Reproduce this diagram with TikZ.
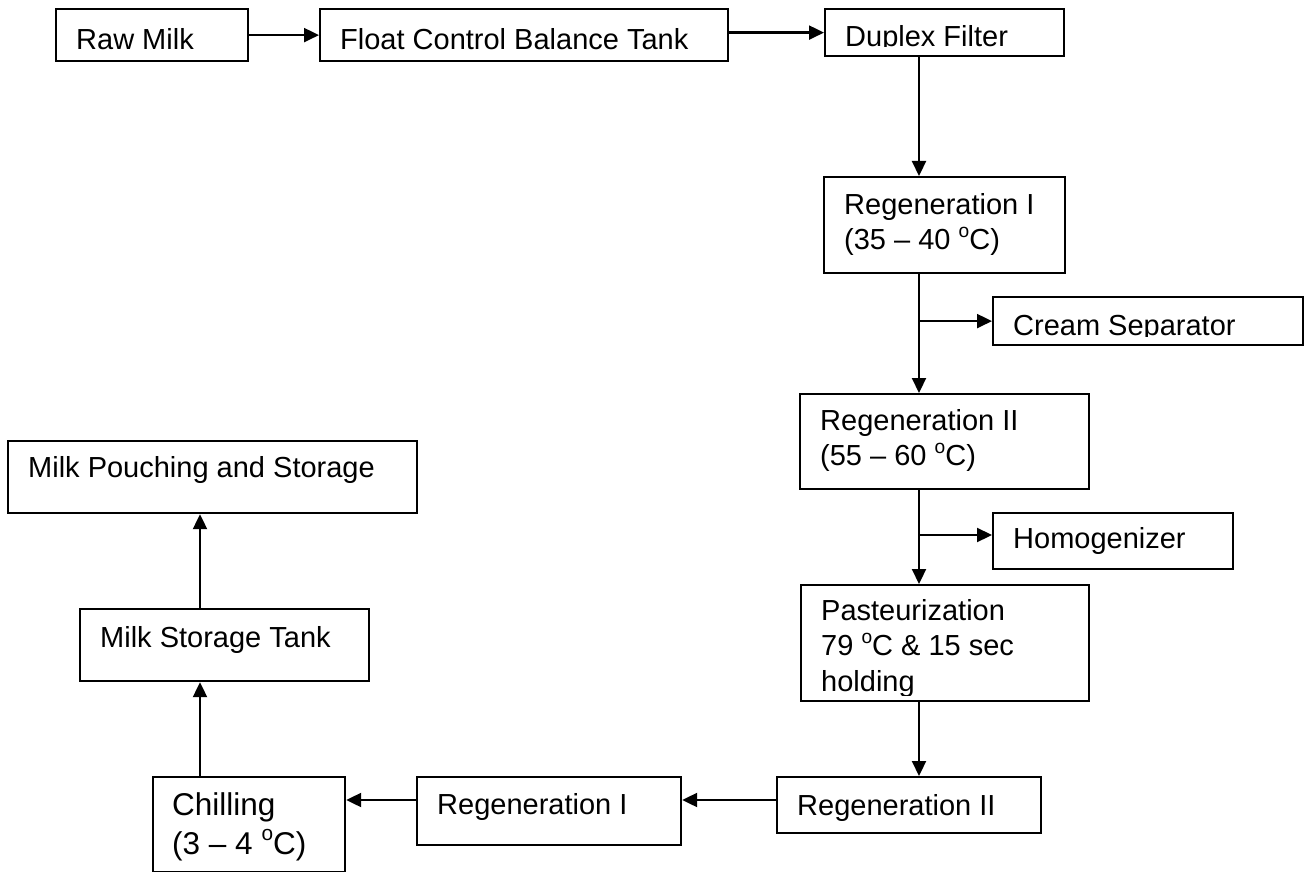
\documentclass[tikz,border=0pt]{standalone}
\usepackage{fontspec}
\setmainfont{Liberation Sans}
\usetikzlibrary{arrows.meta}
% stacked lines whose baseline is that of the first line
\newcommand{\stack}[1]{\begin{tabular}[t]{@{}l@{}}#1\end{tabular}}
% raised small o before C, as in the temperature labels
\newcommand{\degC}{\raisebox{0.42em}{\fontsize{0.66em}{0.66em}\selectfont o}C}
\begin{document}
\begin{tikzpicture}[x=1pt,y=-1pt,
  box/.style={draw, line width=2.2pt, rectangle, inner sep=0pt, anchor=north west},
  lbl/.style={anchor=base west, inner sep=0pt, font=\fontsize{29}{35.5}\selectfont},
  biglbl/.style={anchor=base west, inner sep=0pt, font=\fontsize{31.5}{39}\selectfont},
  flow/.style={line width=2.2pt, -{Triangle[length=15pt,width=14pt]}}]
\useasboundingbox (0,0) rectangle (1304,872);

% process boxes
\node[box, minimum width=192pt, minimum height=52pt] (raw)     at (55,8)    {};
\node[box, minimum width=408pt, minimum height=52pt] (float)   at (319,8)   {};
\node[box, minimum width=239pt, minimum height=47pt] (duplex)  at (824,8)   {};
\node[box, minimum width=241pt, minimum height=96pt] (regA)    at (823,176) {};
\node[box, minimum width=310pt, minimum height=48pt] (cream)   at (992,296) {};
\node[box, minimum width=289pt, minimum height=95pt] (regB)    at (799,393) {};
\node[box, minimum width=240pt, minimum height=56pt] (homog)   at (992,512) {};
\node[box, minimum width=288pt, minimum height=116pt] (past)   at (800,584) {};
\node[box, minimum width=264pt, minimum height=56pt] (regBret) at (776,776) {};
\node[box, minimum width=264pt, minimum height=68pt] (regAret) at (416,776) {};
\node[box, minimum width=192pt, minimum height=95pt] (chill)   at (152,776) {};
\node[box, minimum width=289pt, minimum height=72pt] (store)   at (79,608)  {};
\node[box, minimum width=409pt, minimum height=72pt] (pouch)   at (7,440)   {};

% box texts
\node[lbl] (rawT)   at (76,50)  {Raw Milk};
\node[lbl] (floatT) at (340,50) {Float Control Balance Tank};
\begin{scope}
  \clip (824,8) rectangle (1063,47);
  \node[lbl] (duplexT) at (845,47) {Duplex Filter};
\end{scope}
\node[lbl] (regAT) at (844,214) {\stack{Regeneration I\\(35 – 40 \degC)}};
\begin{scope}
  \clip (992,296) rectangle (1302,336);
  \node[lbl] (creamT) at (1013,335) {Cream Separator};
\end{scope}
\node[lbl] (regBT)  at (820,430) {\stack{Regeneration II\\(55 – 60 \degC)}};
\node[lbl] (homogT) at (1013,548) {Homogenizer};
\begin{scope}
  \clip (800,584) rectangle (1088,695);
  \node[lbl] (pastT) at (821,620) {\stack{Pasteurization\\79 \degC\ \& 15 sec\\holding}};
\end{scope}
\node[lbl] (regBretT) at (797,815) {Regeneration II};
\node[lbl] (regAretT) at (437,814) {Regeneration I};
\node[biglbl] (chillT) at (172,815) {\stack{Chilling\\(3 – 4 \degC)}};
\node[lbl] (storeT) at (100,647) {Milk Storage Tank};
\node[lbl] (pouchT) at (28,477) {Milk Pouching and Storage};

% guide lines for the connectors
\coordinate (trunk) at (919,0);
\coordinate (homBranch) at (919,535);
\coordinate (low) at (0,800);
\coordinate (upcol) at (200,0);

% connectors
\draw[flow] (raw.east) -- (float.west);
\draw[flow] (float.east |- duplex.west) -- (duplex.west);
\draw[flow] (duplex.south -| trunk) -- (regA.north -| trunk);
\draw[flow] (regA.south -| trunk) -- (regB.north -| trunk);
\draw[flow] (trunk |- cream.west) -- (cream.west);
\draw[flow] (regB.south -| trunk) -- (past.north -| trunk);
\draw[flow] (homBranch) -- (homBranch -| homog.west);
\draw[flow] (past.south -| trunk) -- (regBret.north -| trunk);
\draw[flow] (regBret.west |- low) -- (regAret.east |- low);
\draw[flow] (regAret.west |- low) -- (chill.east |- low);
\draw[flow] (chill.north -| upcol) -- (store.south -| upcol);
\draw[flow] (store.north -| upcol) -- (pouch.south -| upcol);
\end{tikzpicture}
\end{document}
